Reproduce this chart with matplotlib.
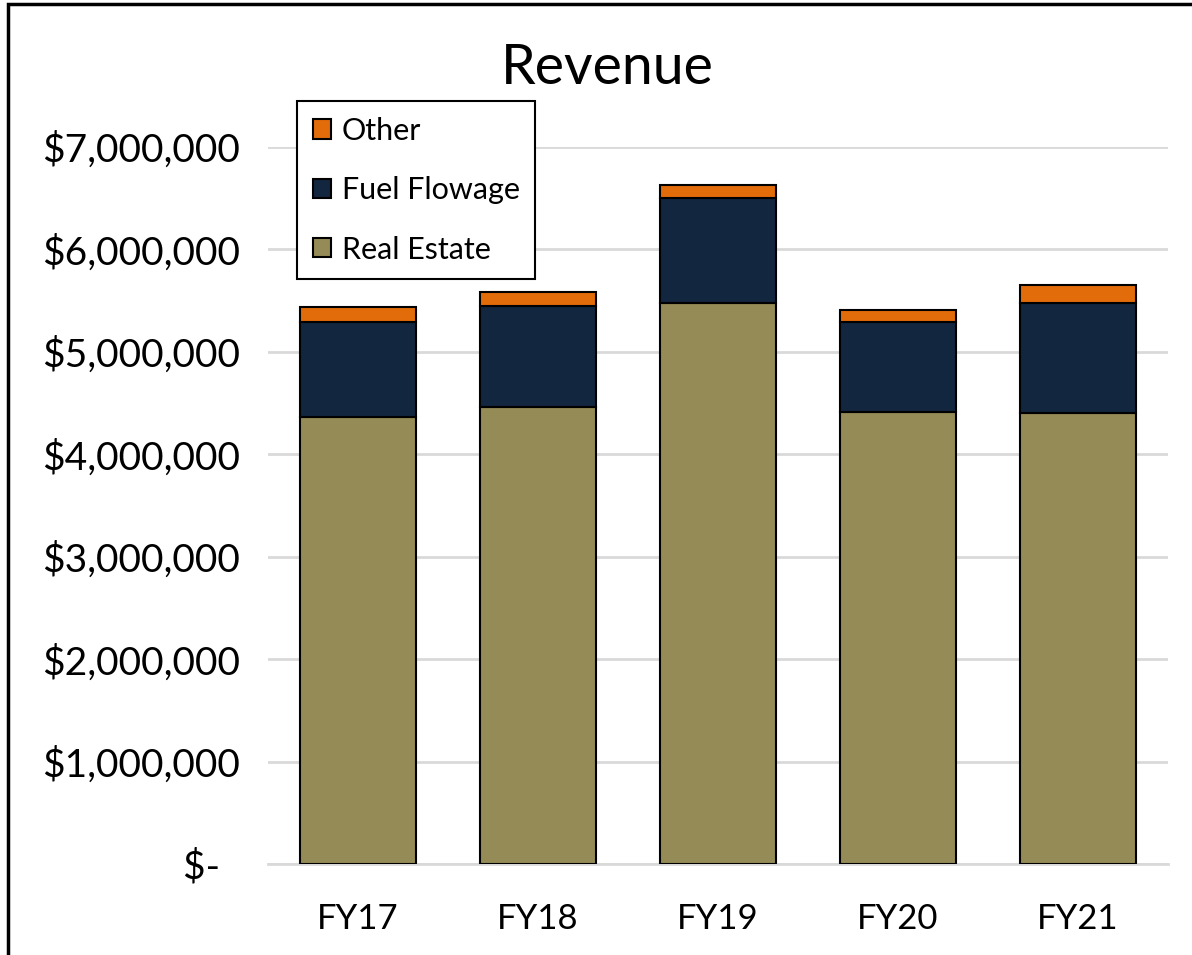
import numpy as np
import matplotlib.pyplot as plt
from matplotlib.patches import Rectangle
from matplotlib.ticker import FuncFormatter

plt.rcParams['font.family'] = ['Lato', 'DejaVu Sans']

years = ['FY17', 'FY18', 'FY19', 'FY20', 'FY21']
real_estate = [4364000, 4465000, 5480000, 4413000, 4406000]
fuel_flowage = [923000, 983000, 1018000, 875000, 1074000]
other = [147000, 139000, 134000, 124000, 176000]

W, H = 1192, 955
fig = plt.figure(figsize=(W / 100, H / 100), dpi=100)
ax = fig.add_axes([268 / W, 1 - 864 / H, 900 / W, (864 - 147) / H])

x = np.arange(len(years))
bw = 0.645
re_arr = np.array(real_estate)
ff_arr = np.array(fuel_flowage)

b1 = ax.bar(x, real_estate, bw, color='#958B56', edgecolor='black', linewidth=1.5,
            label='Real Estate', zorder=3)
b2 = ax.bar(x, fuel_flowage, bw, bottom=re_arr, color='#12263F', edgecolor='black',
            linewidth=1.5, label='Fuel Flowage', zorder=3)
b3 = ax.bar(x, other, bw, bottom=re_arr + ff_arr, color='#E36C0A', edgecolor='black',
            linewidth=1.5, label='Other', zorder=3)

ax.set_xlim(-0.5, len(years) - 0.5)
ax.set_ylim(0, 7000000)
ax.set_yticks(np.arange(0, 7000001, 1000000))


def money(v, pos):
    if v == 0:
        return '$-  '
    return '${:,.0f}'.format(v)


ax.yaxis.set_major_formatter(FuncFormatter(money))
ax.set_xticks(x)
ax.set_xticklabels(years)
ax.tick_params(axis='both', length=0)
ax.tick_params(axis='y', pad=20, labelsize=28)
ax.tick_params(axis='x', pad=28, labelsize=25)

ax.grid(axis='y', color='#d9d9d9', linewidth=2, zorder=0)
for s in ['top', 'right', 'left']:
    ax.spines[s].set_visible(False)
ax.spines['bottom'].set_color('#d9d9d9')
ax.spines['bottom'].set_linewidth(2)

fig.text(607 / W, 1 - 68 / H, 'Revenue', ha='center', va='center', fontsize=40)

leg = ax.legend(handles=[b3, b2, b1], loc='upper left',
                bbox_to_anchor=(297 / W, 1 - 101 / H), bbox_transform=fig.transFigure,
                borderaxespad=0, fontsize=22, frameon=True, fancybox=False,
                edgecolor='black', handlelength=0.6, handleheight=0.6,
                handletextpad=0.35, labelspacing=1.03, borderpad=0.51)
leg.get_frame().set_linewidth(1.5)
leg.get_frame().set_alpha(1)

fig.add_artist(Rectangle((8 / W, -0.05), 1.2, 1 - 4 / H + 0.05,
                         transform=fig.transFigure, fill=False, lw=2.5, edgecolor='black'))

fig.savefig('out.png', dpi=100)
